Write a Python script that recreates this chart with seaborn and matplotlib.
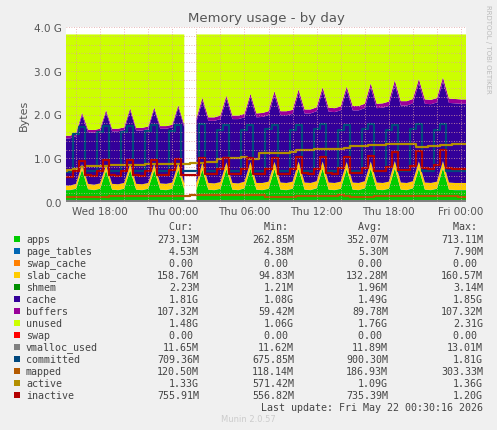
import numpy as np
import pandas as pd
import matplotlib
matplotlib.use("Agg")
import matplotlib.pyplot as plt
import seaborn as sns

nan = np.nan
# 30-minute samples from Wed 15:00 to Fri 00:30; index 21 (Thu 01:30) is the data gap
apps = [0.27,0.27,0.30,0.74,0.29,0.27,0.30,0.72,0.28,0.27,0.30,0.73,0.28,0.27,0.30,0.73,0.28,0.27,0.30,0.74,0.28,
        nan,
        0.27,0.74,0.28,0.27,0.30,0.75,0.28,0.27,0.31,0.76,0.28,0.27,0.30,0.75,0.28,0.27,0.30,0.76,0.28,0.27,0.31,0.76,
        0.28,0.27,0.30,0.75,0.28,0.27,0.31,0.76,0.28,0.27,0.30,0.77,0.28,0.27,0.31,0.76,0.28,0.27,0.30,0.77,0.28,0.27,0.27,0.27]
slab = [0.10,0.10,0.11,0.12,0.12,0.12,0.12,0.12,0.13,0.13,0.13,0.13,0.13,0.13,0.13,0.13,0.14,0.14,0.14,0.14,0.14,
        nan] + [0.15,0.15,0.15,0.15,0.15,0.15,0.15,0.15,0.15,0.15,0.15,0.16,0.16,0.16,0.16,0.16,0.16,0.16,0.16,0.16,0.16,0.16,0.16,
        0.16,0.16,0.16,0.16,0.16,0.16,0.16,0.16,0.16,0.16,0.16,0.16,0.16,0.16,0.16,0.16,0.16,0.16,0.16,0.16,0.16,0.16,0.16]
cache = [1.08,1.08,1.09,1.12,1.18,1.19,1.19,1.20,1.20,1.21,1.21,1.22,1.22,1.23,1.23,1.24,1.25,1.26,1.26,1.27,1.28,
         nan,
         1.40,1.41,1.42,1.43,1.44,1.45,1.46,1.47,1.47,1.48,1.50,1.51,1.52,1.53,1.54,1.55,1.55,1.56,1.58,1.59,1.60,1.61,
         1.62,1.62,1.63,1.64,1.65,1.66,1.67,1.69,1.70,1.72,1.73,1.75,1.76,1.77,1.78,1.79,1.80,1.80,1.81,1.82,1.82,1.82,1.81,1.81]
buffers = [0.06]*21 + [nan] + [0.08]*10 + [0.09]*16 + [0.10]*20
total = 3.83
committed = [0.68,0.68,1.55,1.72,0.72,0.70,1.60,1.74,0.71,0.70,1.60,1.74,0.71,0.70,1.62,1.75,0.71,0.70,1.62,1.75,0.72,
             nan,
             0.72,1.78,0.71,0.70,1.65,1.76,0.71,0.70,1.64,1.77,0.71,0.70,1.66,1.76,0.71,0.70,1.65,1.77,0.71,0.70,1.66,1.78,
             0.71,0.70,1.65,1.77,0.71,0.70,1.66,1.78,0.71,0.70,1.65,1.77,0.71,0.70,1.66,1.78,0.71,0.70,1.65,1.78,0.71,0.70,0.70,0.71]
inactive = [0.57,0.57,0.70,0.93,0.62,0.60,0.72,0.95,0.61,0.60,0.72,0.96,0.61,0.60,0.72,0.97,0.61,0.61,0.73,0.98,0.62,
            nan,
            0.62,1.00,0.64,0.63,0.75,1.00,0.64,0.63,0.75,1.00,0.65,0.63,0.76,1.01,0.65,0.64,0.76,1.02,0.66,0.64,0.76,1.02,
            0.66,0.65,0.77,1.03,0.67,0.66,0.78,1.05,0.70,0.70,0.80,1.15,0.74,0.73,0.82,1.17,0.77,0.76,0.84,1.18,0.77,0.76,0.76,0.76]
active = [0.72,0.74,0.76,0.80,0.82,0.82,0.83,0.83,0.84,0.84,0.84,0.85,0.85,0.85,0.86,0.86,0.86,0.87,0.87,0.87,0.88,
          nan,
          0.90,0.90,0.91,0.92,0.99,1.00,1.00,1.00,1.02,0.98,0.98,1.12,1.12,1.12,1.13,1.13,1.15,1.20,1.20,1.20,1.21,1.21,1.22,
          1.22,1.22,1.23,1.28,1.28,1.29,1.30,1.30,1.31,1.32,1.32,1.33,1.33,1.33,1.26,1.26,1.27,1.27,1.30,1.31,1.32,1.33,1.33]
mapped = [0.12,0.12,0.12,0.12,0.12,0.12,0.12,0.12,0.13,0.13,0.13,0.13,0.13,0.13,0.13,0.13,0.14,0.14,0.14,0.14,0.14,
          nan,
          0.16,0.16,0.17,0.17,0.17,0.17,0.17,0.17,0.17,0.17,0.17,0.17,0.12,0.12,0.12,0.12,0.12,0.13,0.13,0.13,0.13,0.13,0.13,
          0.13,0.15,0.13,0.12,0.12,0.12,0.12,0.13,0.13,0.13,0.13,0.13,0.13,0.13,0.14,0.14,0.14,0.14,0.14,0.14,0.13,0.12,0.12]

times = pd.date_range("2026-05-20 15:00", periods=len(apps), freq="30min")
df = pd.DataFrame(dict(t=times, apps=apps, slab=slab, cache=cache, buffers=buffers,
                       committed=committed, inactive=inactive, active=active, mapped=mapped))
df["page_tables"] = np.where(df.apps.isna(), nan, 0.005)
df["unused"] = total - df.apps - df.page_tables - df.slab - df.cache - df.buffers
df["swap"] = np.where(df.apps.isna(), nan, 0.0)
df["vmalloc"] = np.where(df.apps.isna(), nan, 0.012)

sns.set_style("white")
plt.rcParams["font.family"] = ["DejaVu Sans"]
fig = plt.figure(figsize=(4.97, 4.31), dpi=100, facecolor="#F0F0F0")
W, H = 497, 431
ax = fig.add_axes([66 / W, (H - 203) / H, 400 / W, 175 / H])
ax.set_facecolor("white")

stack_cols = ["apps", "page_tables", "slab", "cache", "buffers", "unused"]
stack_colors = ["#00CC00", "#0066B3", "#FFCC00", "#330099", "#990099", "#CCFF00"]
ax.stackplot(df.t, *[df[c].fillna(0).where(~df.apps.isna(), nan) for c in stack_cols],
             colors=stack_colors, linewidth=0)
line_specs = [("swap", "#FF0000"), ("vmalloc", "#808080"), ("committed", "#00487D"),
              ("mapped", "#B35A00"), ("active", "#B38F00"), ("inactive", "#B30000")]
for c, col in line_specs:
    sns.lineplot(data=df, x="t", y=c, ax=ax, color=col, linewidth=1.6, drawstyle="steps-mid")

ax.set_xlim(pd.Timestamp("2026-05-20 15:10"), pd.Timestamp("2026-05-22 00:25"))
ax.set_ylim(0, 4.0)
ax.set_yticks([0, 1, 2, 3, 4])
ax.set_yticklabels(["0.0", "1.0 G", "2.0 G", "3.0 G", "4.0 G"])
xt = pd.date_range("2026-05-20 18:00", periods=6, freq="6h")
ax.set_xticks(xt)
ax.set_xticklabels(["Wed 18:00", "Thu 00:00", "Thu 06:00", "Thu 12:00", "Thu 18:00", "Fri 00:00"])
ax.set_xticks(pd.date_range("2026-05-20 16:00", "2026-05-22 00:00", freq="2h"), minor=True)
ax.set_yticks(np.arange(0, 4.01, 0.2), minor=True)
ax.grid(True, which="both", color="#E0A0A0", linestyle=(0, (1, 2)), linewidth=0.6)
ax.set_axisbelow(False)
for s in ax.spines.values():
    s.set_visible(False)
ax.tick_params(labelsize=7.5, colors="#555555", length=0, pad=3)
ax.set_xlabel("")
ax.set_ylabel("Bytes", fontsize=8, color="#555555")
ax.set_title("Memory usage - by day", fontsize=9.5, color="#555555", pad=4)
fig.text(488 / W, 1 - 5 / H, "RRDTOOL / TOBI OETIKER", rotation=270, fontsize=5,
         color="#BBBBBB", va="top", ha="center")

mono = "DejaVu Sans Mono"
fs = 7.2
def yy(p):
    return 1 - p / H
fig.text(199 / W, yy(227), "Cur: ", family=mono, fontsize=fs, ha="right", va="center", color="#444")
fig.text(294 / W, yy(227), "Min: ", family=mono, fontsize=fs, ha="right", va="center", color="#444")
fig.text(388 / W, yy(227), "Avg: ", family=mono, fontsize=fs, ha="right", va="center", color="#444")
fig.text(483 / W, yy(227), "Max: ", family=mono, fontsize=fs, ha="right", va="center", color="#444")
names = ["apps", "page_tables", "swap_cache", "slab_cache", "shmem", "cache", "buffers", "unused",
         "swap", "vmalloc_used", "committed", "mapped", "active", "inactive"]
colors = ["#00CC00", "#0066B3", "#FF8000", "#FFCC00", "#008F00", "#330099", "#990099", "#CCFF00",
          "#FF0000", "#808080", "#00487D", "#B35A00", "#B38F00", "#B30000"]
cur = ["273.13M", "4.53M", "0.00 ", "158.76M", "2.23M", "1.81G", "107.32M", "1.48G", "0.00 ", "11.65M", "709.36M", "120.50M", "1.33G", "755.91M"]
mn = ["262.85M", "4.38M", "0.00 ", "94.83M", "1.21M", "1.08G", "59.42M", "1.06G", "0.00 ", "11.62M", "675.85M", "118.14M", "571.42M", "556.82M"]
avg = ["352.07M", "5.30M", "0.00 ", "132.28M", "1.96M", "1.49G", "89.78M", "1.76G", "0.00 ", "11.89M", "900.30M", "186.93M", "1.09G", "735.39M"]
mx = ["713.11M", "7.90M", "0.00 ", "160.57M", "3.14M", "1.85G", "107.32M", "2.31G", "0.00 ", "13.01M", "1.81G", "303.33M", "1.36G", "1.20G"]
for i, n in enumerate(names):
    y = 240 + 12 * i
    fig.patches.append(plt.Rectangle((14 / W, yy(y + 3)), 6 / W, 6 / H, transform=fig.transFigure,
                                     facecolor=colors[i], edgecolor="none"))
    fig.text(26 / W, yy(y), n, family=mono, fontsize=fs, va="center", color="#444")
    for xr, vals in [(199, cur), (294, mn), (388, avg), (483, mx)]:
        fig.text(xr / W, yy(y), vals[i], family=mono, fontsize=fs, ha="right", va="center", color="#444")
fig.text(483 / W, yy(408), "Last update: Fri May 22 00:30:16 2026", family=mono, fontsize=fs,
         ha="right", va="center", color="#444")
fig.text(248 / W, yy(420), "Munin 2.0.57", fontsize=6, ha="center", va="center", color="#CCCCCC")
fig.savefig("out.png", dpi=100, facecolor=fig.get_facecolor())
